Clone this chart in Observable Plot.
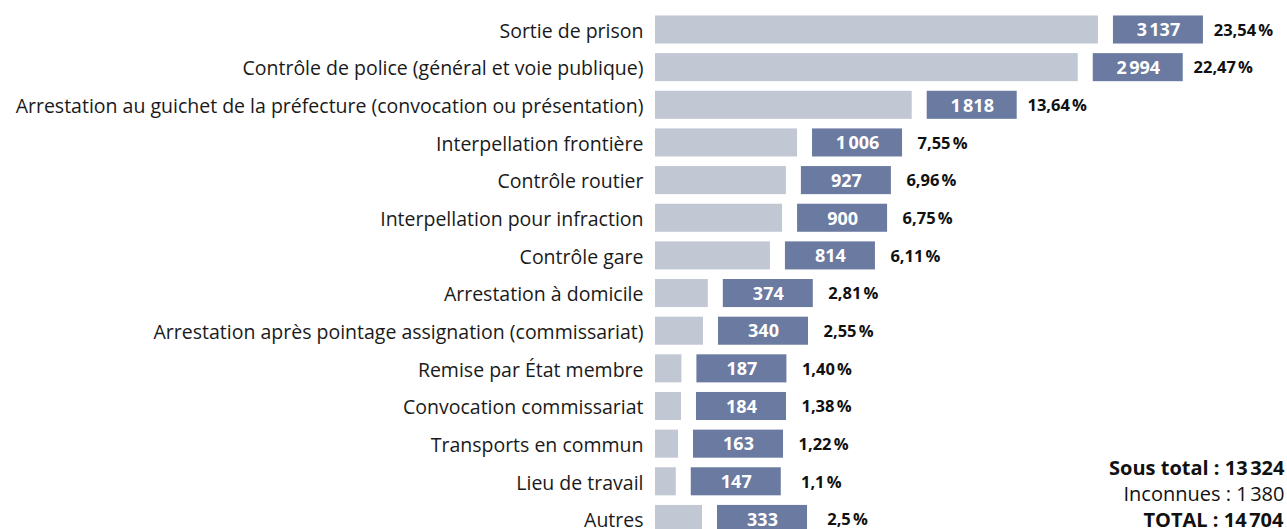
<!DOCTYPE html>
<html>
<head>
<meta charset="utf-8">
<script src="https://cdn.jsdelivr.net/npm/d3@7"></script>
<script src="https://cdn.jsdelivr.net/npm/@observablehq/plot@0.6"></script>
<style>
  html, body { margin: 0; padding: 0; background: #fff; }
  #chart svg { display: block; }
  g[aria-label="category labels"] text { letter-spacing: 0.2px; }
  g[aria-label="count labels"] text { letter-spacing: 0.5px; }
  g[aria-label="share labels"] text { letter-spacing: 0.1px; }
  g[aria-label="grand total"] text { letter-spacing: 1px; }
</style>
</head>
<body>
<div id="chart"></div>
<script>
const categories = [
  "Sortie de prison",
  "Contrôle de police (général et voie publique)",
  "Arrestation au guichet de la préfecture (convocation ou présentation)",
  "Interpellation frontière",
  "Contrôle routier",
  "Interpellation pour infraction",
  "Contrôle gare",
  "Arrestation à domicile",
  "Arrestation après pointage assignation (commissariat)",
  "Remise par État membre",
  "Convocation commissariat",
  "Transports en commun",
  "Lieu de travail",
  "Autres"
];
const counts = [3137, 2994, 1818, 1006, 927, 900, 814, 374, 340, 187, 184, 163, 147, 333];
const shares = ["23,54\u202F%", "22,47\u202F%", "13,64\u202F%", "7,55\u202F%", "6,96\u202F%", "6,75\u202F%", "6,11\u202F%",
  "2,81\u202F%", "2,55\u202F%", "1,40\u202F%", "1,38\u202F%", "1,22\u202F%", "1,1\u202F%", "2,5\u202F%"];
const summaryLines = ["Sous total : 13\u202F324", "Inconnues : 1\u202F380", "TOTAL : 14\u202F704"];

const fmt = v => v >= 1000 ? String(v).replace(/\B(?=(\d{3})+(?!\d))/g, "\u202F") : String(v);
const rows = categories.map((c, i) => ({cat: c, n: counts[i], label: fmt(counts[i]), pct: shares[i]}));

const font = "'Open Sans', 'DejaVu Sans', sans-serif";
const W = 1287, H = 529;
const step = 37.65;
const r0 = 29.5 - step / 2;

const chart = Plot.plot({
  width: W,
  height: H,
  marginLeft: 655,
  marginRight: 0,
  marginTop: 0,
  marginBottom: 0,
  style: {fontFamily: font, background: "#fff", color: "#1a1a1a"},
  x: {domain: [0, 4476], axis: null},
  y: {domain: categories, range: [r0, r0 + 14 * step], paddingInner: 0.255, paddingOuter: 0.1275, round: false, axis: null},
  marks: [
    Plot.barX(rows, {y: "cat", x1: 0, x2: "n", fill: "#c1c7d3"}),
    Plot.barX(rows, {y: "cat", x1: "n", x2: "n", insetLeft: 15, insetRight: -105, fill: "#6a7aa0"}),
    Plot.text(rows, {y: "cat", x: "n", dx: 60, dy: 0.5, text: "label", fill: "#fff", fontWeight: "bold", fontSize: 18, textAnchor: "middle", ariaLabel: "count labels"}),
    Plot.text(rows, {y: "cat", x: "n", dx: 145, dy: 0.5, text: "pct", fill: "#111", fontWeight: "bold", fontSize: 16.5, textAnchor: "middle", ariaLabel: "share labels"}),
    Plot.text(rows, {y: "cat", x: 0, dx: -12, dy: 1.5, text: "cat", fill: "#1a1a1a", fontSize: 19.5, textAnchor: "end", ariaLabel: "category labels"}),
    Plot.text([summaryLines[0]], {frameAnchor: "bottom-right", dx: -3, dy: -61, text: d => d, fontWeight: "bold", fontSize: 20, textAnchor: "end", lineAnchor: "middle", fill: "#111", ariaLabel: "sub total"}),
    Plot.text([summaryLines[1]], {frameAnchor: "bottom-right", dx: -3, dy: -35, text: d => d, fontSize: 20, textAnchor: "end", lineAnchor: "middle", fill: "#111", ariaLabel: "unknown"}),
    Plot.text([summaryLines[2]], {frameAnchor: "bottom-right", dx: -4, dy: -9, text: d => d, fontWeight: "bold", fontSize: 20, textAnchor: "end", lineAnchor: "middle", fill: "#111", ariaLabel: "grand total"})
  ]
});
document.getElementById("chart").appendChild(chart);
</script>
</body>
</html>
